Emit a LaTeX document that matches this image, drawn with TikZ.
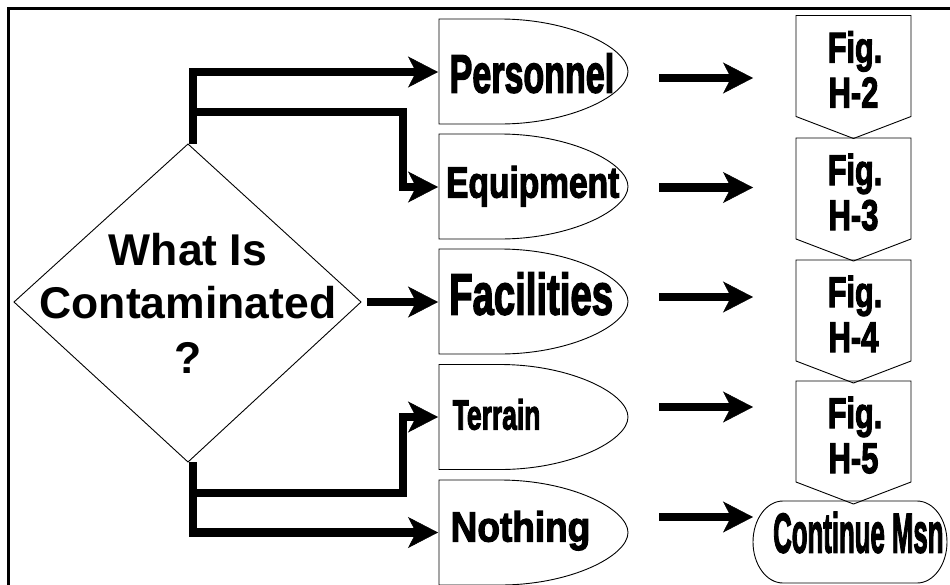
\documentclass[tikz,border=0pt]{standalone}
\usepackage{fontspec}
\usepackage{graphicx}
\setmainfont{Liberation Sans}
\newfontfamily\heavyfont[FakeBold=3]{Liberation Sans Bold}
\usetikzlibrary{arrows.meta}
\newcommand{\sqtxt}[3]{{\fontsize{#1}{#1}\selectfont\bfseries\scalebox{#2}[1]{#3}}}
\newcommand{\hvtxt}[3]{{\fontsize{#1}{#1}\selectfont\heavyfont\scalebox{#2}[1]{#3}}}
\begin{document}
\begin{tikzpicture}[x=1pt,y=-1pt,
  thinl/.style={draw=black,line width=0.9pt},
  flow/.style={line width=8.5pt,-{Stealth[length=30pt,width=31pt,inset=8pt,line width=0.5pt]}},
  lbl/.style={inner sep=0pt,anchor=base west},
  figl/.style={inner sep=0pt,anchor=base},
  delaybox/.pic={\draw[thinl] (0,-52.5) -- (61,-52.5) .. controls (131.7,-52.5) and (189,-23.5) .. (189,0) .. controls (189,23.5) and (131.7,52.5) .. (61,52.5) -- (0,52.5) -- cycle;},
  figbox/.pic={\draw[thinl] (0,0) -- (115,0) -- (115,101) -- (57.5,123) -- (0,101) -- cycle;}
]
\useasboundingbox (0,0) rectangle (950,584);
% frame
\draw[line width=2.5pt] (8.3,590) -- (8.3,8.5) -- (955,8.5);
% decision diamond
\draw[thinl] (188,144) -- (361,302) -- (188,462) -- (14,302) -- cycle;
\node[figl] (q1) at (188,265) {\sqtxt{44.5}{1}{What Is}};
\node[figl] (q2) at (188,318) {\sqtxt{44.5}{1}{Contaminated}};
\node[figl] (q3) at (188,373) {\sqtxt{44.5}{1}{?}};
% category shapes
\pic at (439,71.5) {delaybox};
\pic at (439,186.5) {delaybox};
\pic at (439,301.5) {delaybox};
\pic at (439,417) {delaybox};
\pic at (439,532.5) {delaybox};
\node[lbl] (pers) at (449.5,92.5) {\hvtxt{54}{0.63}{Personnel}};
\node[lbl] (equi) at (446,197.5) {\hvtxt{43.5}{0.77}{Equipment}};
\node[lbl] (faci) at (449,314.5) {\hvtxt{58}{0.66}{Facilities}};
\node[lbl] (terr) at (452.5,429.5) {\hvtxt{42}{0.63}{Terrain}};
\node[lbl] (noth) at (450.5,541.5) {\hvtxt{42}{0.88}{Nothing}};
% figure boxes
\pic at (796,15.5) {figbox};
\pic at (796,138) {figbox};
\pic at (796,260) {figbox};
\pic at (796,381) {figbox};
\node[figl] (f2a) at (855,62.5) {\hvtxt{43}{0.71}{Fig.}};
\node[figl] (f2b) at (853.5,107.5) {\hvtxt{43}{0.72}{H-2}};
\node[figl] (f3a) at (855,185) {\hvtxt{43}{0.71}{Fig.}};
\node[figl] (f3b) at (853.5,230) {\hvtxt{43}{0.72}{H-3}};
\node[figl] (f4a) at (855,307) {\hvtxt{43}{0.71}{Fig.}};
\node[figl] (f4b) at (853.5,352) {\hvtxt{43}{0.72}{H-4}};
\node[figl] (f5a) at (855,428) {\hvtxt{43}{0.71}{Fig.}};
\node[figl] (f5b) at (853.5,473) {\hvtxt{43}{0.72}{H-5}};
% continue mission terminator
\draw[thinl] (783,501) -- (917,501) .. controls (933.6,501) and (947,519.4) .. (947,542) .. controls (947,564.6) and (933.6,583) .. (917,583) -- (783,583) .. controls (766.4,583) and (753,564.6) .. (753,542) .. controls (753,519.4) and (766.4,501) .. (783,501) -- cycle;
\node[lbl] (cont) at (773,552.5) {\hvtxt{56}{0.46}{Continue Msn}};
% connector anchors
\coordinate (dN) at (193,144);
\coordinate (dS) at (193,462);
\coordinate (dE) at (367,302);
\coordinate (b1) at (193,112);
\coordinate (b2) at (193,493);
\coordinate (persW) at (438,72);
\coordinate (equiW) at (438,187);
\coordinate (faciW) at (438,302);
\coordinate (terrW) at (438,417);
\coordinate (nothW) at (438,532.5);
\coordinate (r1s) at (659,78);   \coordinate (r1e) at (753,78);
\coordinate (r2s) at (659,187.5);\coordinate (r2e) at (753,187.5);
\coordinate (r3s) at (659,297);  \coordinate (r3e) at (753,297);
\coordinate (r4s) at (659,407);  \coordinate (r4e) at (753,407);
\coordinate (r5s) at (659,517);  \coordinate (r5e) at (753,517);
% connectors
\draw[flow] (dN) |- (persW);
\draw[flow] (b1) -- ++(210,0) |- (equiW);
\draw[flow] (dE) -- (faciW);
\draw[flow] (b2) -- ++(210,0) |- (terrW);
\draw[flow] (dS) |- (nothW);
\draw[flow] (r1s) -- (r1e);
\draw[flow] (r2s) -- (r2e);
\draw[flow] (r3s) -- (r3e);
\draw[flow] (r4s) -- (r4e);
\draw[flow] (r5s) -- (r5e);
\end{tikzpicture}
\end{document}
